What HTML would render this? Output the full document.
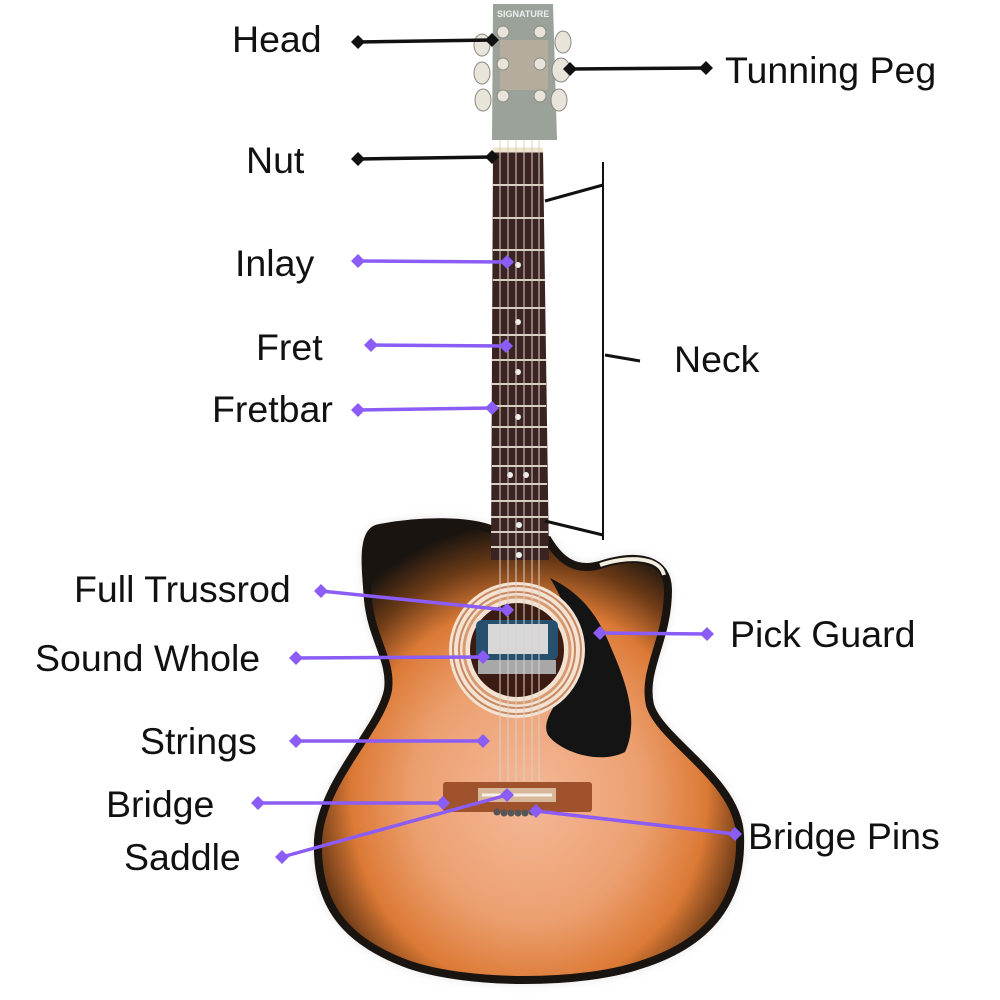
<!DOCTYPE html>
<html><head><meta charset="utf-8"><style>
html,body{margin:0;padding:0;background:#fff;}
svg{display:block}
text{font-family:"Liberation Sans",sans-serif;font-size:37.5px;fill:#111;}
</style></head><body>
<svg width="1000" height="1000" viewBox="0 0 1000 1000" xmlns="http://www.w3.org/2000/svg">
<defs>
<radialGradient id="body" cx="0.5" cy="0.6" r="0.6">
<stop offset="0" stop-color="#f4b898"/>
<stop offset="0.45" stop-color="#eca070"/>
<stop offset="0.7" stop-color="#dc7a36"/>
<stop offset="0.86" stop-color="#6b3a16"/>
<stop offset="1" stop-color="#1a1410"/>
</radialGradient>
<filter id="sh" x="-10%" y="-10%" width="120%" height="120%"><feGaussianBlur stdDeviation="6"/></filter>
</defs>
<path d="M380,528 C360,530 366,570 368,600 C372,640 392,660 388,690 C380,730 322,780 318,840 C316,900 340,940 410,965 C470,985 580,985 640,965 C720,940 742,890 740,835 C738,780 660,740 650,705 C642,670 668,640 668,590 C668,560 640,552 600,565 C575,572 560,560 548,540 L493,530 C470,520 420,520 380,528 Z" fill="#999" opacity="0.5" filter="url(#sh)"/>
<path d="M380,528 C360,530 366,570 368,600 C372,640 392,660 388,690 C380,730 322,780 318,840 C316,900 340,940 410,965 C470,985 580,985 640,965 C720,940 742,890 740,835 C738,780 660,740 650,705 C642,670 668,640 668,590 C668,560 640,552 600,565 C575,572 560,560 548,540 L493,530 C470,520 420,520 380,528 Z" fill="url(#body)" stroke="#1a1410" stroke-width="8"/>
<path d="M600,565 C625,556 660,556 664,575" fill="none" stroke="#f3efe0" stroke-width="4"/>
<path d="M550,578 C585,595 600,620 612,650 C625,680 640,720 625,752 C600,765 560,752 548,735 C540,720 560,700 570,680 C580,650 570,610 550,578 Z" fill="#141414"/>
<circle cx="517" cy="650" r="68" fill="#f4e2d2"/>
<circle cx="517" cy="650" r="64" fill="none" stroke="#c98860" stroke-width="2"/>
<circle cx="517" cy="650" r="58" fill="none" stroke="#c98860" stroke-width="2"/>
<circle cx="517" cy="650" r="53" fill="none" stroke="#d89a70" stroke-width="3"/>
<circle cx="517" cy="650" r="47" fill="#3b1b12"/>
<rect x="476" y="620" width="82" height="40" rx="6" fill="#26506e"/>
<rect x="488" y="624" width="60" height="30" fill="#d8d8d8"/>
<rect x="478" y="660" width="78" height="14" fill="#a8a8a8"/>
<path d="M493,150 L543,150 L549,560 L491,560 Z" fill="#3a2320"/>
<g stroke="#d8cfc0" stroke-width="2">
<line x1="493" y1="150" x2="543" y2="150" stroke-width="5" stroke="#eee4cc"/>
<line x1="493" y1="185" x2="544" y2="185"/><line x1="493" y1="218" x2="544" y2="218"/>
<line x1="493" y1="250" x2="545" y2="250"/><line x1="493" y1="280" x2="545" y2="280"/>
<line x1="492" y1="308" x2="545" y2="308"/><line x1="492" y1="335" x2="546" y2="335"/>
<line x1="492" y1="360" x2="546" y2="360"/><line x1="492" y1="384" x2="546" y2="384"/>
<line x1="492" y1="406" x2="546" y2="406"/><line x1="492" y1="427" x2="547" y2="427"/>
<line x1="492" y1="447" x2="547" y2="447"/><line x1="492" y1="466" x2="547" y2="466"/>
<line x1="491" y1="484" x2="547" y2="484"/><line x1="491" y1="501" x2="548" y2="501"/>
<line x1="491" y1="517" x2="548" y2="517"/><line x1="491" y1="532" x2="548" y2="532"/>
<line x1="491" y1="547" x2="548" y2="547"/>
</g>
<g fill="#eee"><circle cx="518" cy="265" r="3"/><circle cx="518" cy="322" r="3"/><circle cx="518" cy="372" r="3"/><circle cx="518" cy="417" r="3"/><circle cx="510" cy="475" r="3"/><circle cx="526" cy="475" r="3"/><circle cx="519" cy="525" r="3"/><circle cx="519" cy="555" r="3"/></g>
<g stroke="#d8d0c8" stroke-width="1">
<line x1="500" y1="130" x2="500" y2="800"/><line x1="508" y1="130" x2="508" y2="800"/>
<line x1="516" y1="130" x2="516" y2="800"/><line x1="524" y1="130" x2="524" y2="800"/>
<line x1="532" y1="130" x2="532" y2="800"/><line x1="539" y1="130" x2="539" y2="800"/>
</g>
<path d="M493,4 L553,4 L557,140 L492,140 Z" fill="#9aa29a"/>
<path d="M500,40 L548,40 L548,90 L500,90 Z" fill="#c9b3a0" opacity="0.6"/>
<text x="497" y="17" style="font-size:9px;fill:#eee;font-weight:bold">SIGNATURE</text>
<g fill="#e8e4da" stroke="#8a8a80" stroke-width="1">
<ellipse cx="482" cy="45" rx="8" ry="11"/><ellipse cx="482" cy="73" rx="8" ry="11"/><ellipse cx="483" cy="100" rx="8" ry="11"/>
<ellipse cx="563" cy="42" rx="8" ry="11"/><ellipse cx="561" cy="70" rx="9" ry="12"/><ellipse cx="559" cy="100" rx="8" ry="11"/>
<circle cx="503" cy="32" r="6"/><circle cx="540" cy="32" r="6"/><circle cx="503" cy="64" r="6"/><circle cx="540" cy="64" r="6"/><circle cx="503" cy="96" r="6"/><circle cx="540" cy="96" r="6"/>
</g>
<rect x="443" y="782" width="149" height="30" rx="3" fill="#a0522d"/>
<rect x="478" y="788" width="78" height="14" fill="#d9b89a"/>
<line x1="482" y1="795" x2="552" y2="795" stroke="#f5f0e8" stroke-width="3"/>
<g fill="#555"><circle cx="497" cy="812" r="3.5"/><circle cx="504" cy="813" r="3.5"/><circle cx="511" cy="813" r="3.5"/><circle cx="518" cy="813" r="3.5"/><circle cx="525" cy="813" r="3.5"/><circle cx="532" cy="812" r="3.5"/></g>
<g stroke="#111" fill="none">
<line x1="603" y1="162" x2="603" y2="540" stroke-width="2"/>
<line x1="545" y1="201" x2="603" y2="185" stroke-width="3"/>
<line x1="545" y1="521" x2="603" y2="535" stroke-width="3"/>
<line x1="605" y1="355" x2="640" y2="361" stroke-width="3"/>
</g>
<g stroke="#111" stroke-width="3.5" fill="#111">
<line x1="358" y1="42" x2="492" y2="40"/><line x1="570" y1="69" x2="706" y2="68"/><line x1="358" y1="159" x2="492" y2="157"/>
</g>
<g fill="#111">
<path d="M358,35 l7,7 l-7,7 l-7,-7z"/><path d="M492,33 l7,7 l-7,7 l-7,-7z"/>
<path d="M570,62 l7,7 l-7,7 l-7,-7z"/><path d="M706,61 l7,7 l-7,7 l-7,-7z"/>
<path d="M358,152 l7,7 l-7,7 l-7,-7z"/><path d="M492,150 l7,7 l-7,7 l-7,-7z"/>
</g>
<g stroke="#8b5cf6" stroke-width="3.5">
<line x1="358" y1="261" x2="507" y2="262"/><line x1="371" y1="345" x2="506" y2="346"/>
<line x1="358" y1="410" x2="492" y2="408"/><line x1="321" y1="591" x2="507" y2="610"/>
<line x1="296" y1="658" x2="483" y2="657"/><line x1="296" y1="741" x2="483" y2="741"/>
<line x1="258" y1="803" x2="443" y2="803"/><line x1="282" y1="857" x2="507" y2="795"/>
<line x1="536" y1="811" x2="735" y2="834"/><line x1="600" y1="633" x2="707" y2="634"/>
</g>
<g fill="#8b5cf6">
<path d="M358,254 l7,7 l-7,7 l-7,-7z"/><path d="M507,255 l7,7 l-7,7 l-7,-7z"/>
<path d="M371,338 l7,7 l-7,7 l-7,-7z"/><path d="M506,339 l7,7 l-7,7 l-7,-7z"/>
<path d="M358,403 l7,7 l-7,7 l-7,-7z"/><path d="M492,401 l7,7 l-7,7 l-7,-7z"/>
<path d="M321,584 l7,7 l-7,7 l-7,-7z"/><path d="M507,603 l7,7 l-7,7 l-7,-7z"/>
<path d="M296,651 l7,7 l-7,7 l-7,-7z"/><path d="M483,650 l7,7 l-7,7 l-7,-7z"/>
<path d="M296,734 l7,7 l-7,7 l-7,-7z"/><path d="M483,734 l7,7 l-7,7 l-7,-7z"/>
<path d="M258,796 l7,7 l-7,7 l-7,-7z"/><path d="M443,796 l7,7 l-7,7 l-7,-7z"/>
<path d="M282,850 l7,7 l-7,7 l-7,-7z"/><path d="M507,788 l7,7 l-7,7 l-7,-7z"/>
<path d="M536,804 l7,7 l-7,7 l-7,-7z"/><path d="M735,827 l7,7 l-7,7 l-7,-7z"/>
<path d="M600,626 l7,7 l-7,7 l-7,-7z"/><path d="M707,627 l7,7 l-7,7 l-7,-7z"/>
</g>
<text x="232" y="52">Head</text>
<text x="725" y="83">Tunning Peg</text>
<text x="246" y="173">Nut</text>
<text x="674" y="372">Neck</text>
<text x="235" y="276">Inlay</text>
<text x="256" y="360">Fret</text>
<text x="212" y="422">Fretbar</text>
<text x="74" y="602">Full Trussrod</text>
<text x="35" y="671">Sound Whole</text>
<text x="140" y="754">Strings</text>
<text x="106" y="817">Bridge</text>
<text x="124" y="870">Saddle</text>
<text x="748" y="849">Bridge Pins</text>
<text x="730" y="647">Pick Guard</text>
</svg>
</body></html>
